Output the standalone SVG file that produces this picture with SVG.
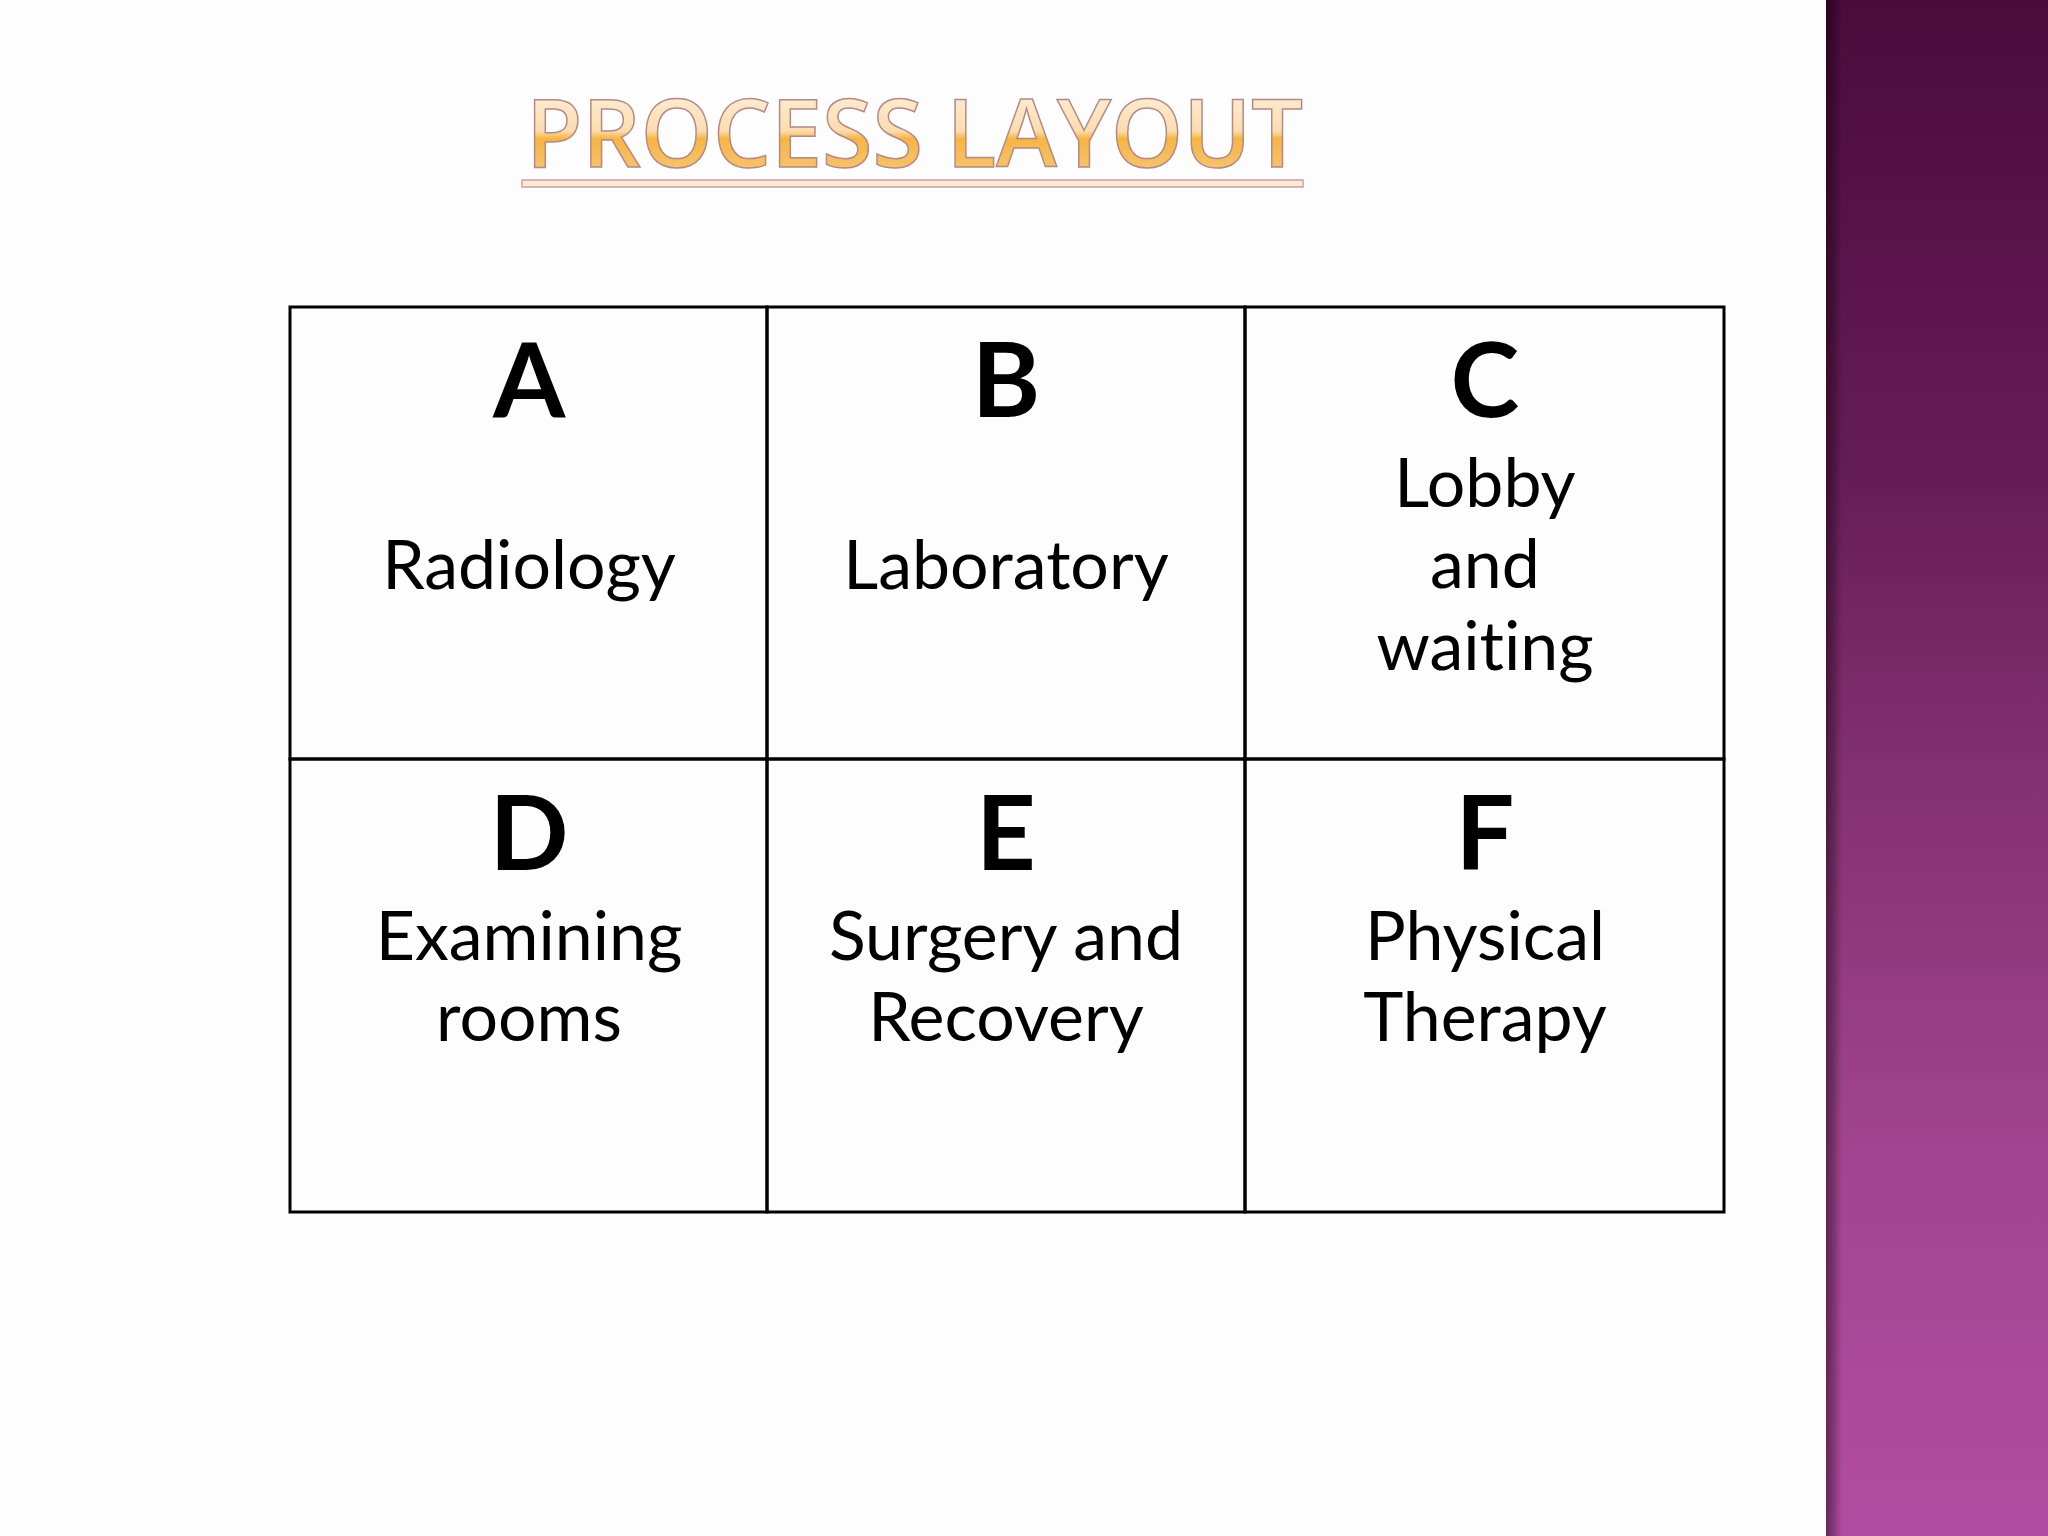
<svg xmlns="http://www.w3.org/2000/svg" width="2048" height="1536" viewBox="0 0 2048 1536">
<defs>
<linearGradient id="side" x1="0" y1="0" x2="0" y2="1">
<stop offset="0" stop-color="#4c0a3d"/>
<stop offset="0.3" stop-color="#641c55"/>
<stop offset="0.5" stop-color="#82306f"/>
<stop offset="0.75" stop-color="#a2448f"/>
<stop offset="1" stop-color="#b24ca2"/>
</linearGradient>
<linearGradient id="edge" x1="0" y1="0" x2="1" y2="0">
<stop offset="0" stop-color="#000" stop-opacity="0.45"/>
<stop offset="0.5" stop-color="#000" stop-opacity="0.25"/>
<stop offset="1" stop-color="#000" stop-opacity="0"/>
</linearGradient>
<linearGradient id="title" x1="0" y1="0" x2="0" y2="1">
<stop offset="0" stop-color="#fff8f0"/>
<stop offset="0.5" stop-color="#fcdcae"/>
<stop offset="0.56" stop-color="#f6b544"/>
<stop offset="0.75" stop-color="#f7c066"/>
<stop offset="1" stop-color="#fbd49a"/>
</linearGradient>
<style>
.cell{fill:none;stroke:#000;stroke-width:3}
.big{font-family:Lato,"Liberation Sans",sans-serif;font-weight:bold;font-size:104px;fill:#000;text-anchor:middle}
.lbl{font-family:Lato,"Liberation Sans",sans-serif;font-size:68px;fill:#000;text-anchor:middle;font-variant-ligatures:none}
</style>
</defs>
<rect width="2048" height="1536" fill="#fefdfe"/>
<g id="sidebar">
<rect x="1826" y="0" width="222" height="1536" fill="url(#side)"/>
<rect x="1826" y="0" width="16" height="1536" fill="url(#edge)"/>
</g>
<g id="title-group">
<text x="526" y="167" font-family="'Open Sans','Liberation Sans',sans-serif" font-weight="600" font-size="94" textLength="777" lengthAdjust="spacingAndGlyphs" fill="url(#title)" stroke="#b48a86" stroke-width="1.5">PROCESS LAYOUT</text>
<rect x="522" y="180" width="781" height="7" fill="#fde7d6" stroke="#c9a29a" stroke-width="1.5"/>
</g>
<g id="node-A">
<rect class="cell" x="290" y="307" width="477" height="452"/>
<text class="big" x="529" y="417">A</text>
<text class="lbl" x="529" y="589">Radiology</text>
</g>
<g id="node-B">
<rect class="cell" x="767" y="307" width="478" height="452"/>
<text class="big" x="1006" y="417">B</text>
<text class="lbl" x="1006" y="589">Laboratory</text>
</g>
<g id="node-C">
<rect class="cell" x="1245" y="307" width="479" height="452"/>
<text class="big" x="1485" y="417">C</text>
<text class="lbl" x="1485" y="507">Lobby</text>
<text class="lbl" x="1485" y="588">and</text>
<text class="lbl" x="1485" y="670">waiting</text>
</g>
<g id="node-D">
<rect class="cell" x="290" y="759" width="477" height="453"/>
<text class="big" x="529" y="870">D</text>
<text class="lbl" x="529" y="960">Examining</text>
<text class="lbl" x="529" y="1041">rooms</text>
</g>
<g id="node-E">
<rect class="cell" x="767" y="759" width="478" height="453"/>
<text class="big" x="1006" y="870">E</text>
<text class="lbl" x="1006" y="960">Surgery and</text>
<text class="lbl" x="1006" y="1041">Recovery</text>
</g>
<g id="node-F">
<rect class="cell" x="1245" y="759" width="479" height="453"/>
<text class="big" x="1485" y="870">F</text>
<text class="lbl" x="1485" y="960">Physical</text>
<text class="lbl" x="1485" y="1041">Therapy</text>
</g>
<g id="connectors"/>
</svg>
